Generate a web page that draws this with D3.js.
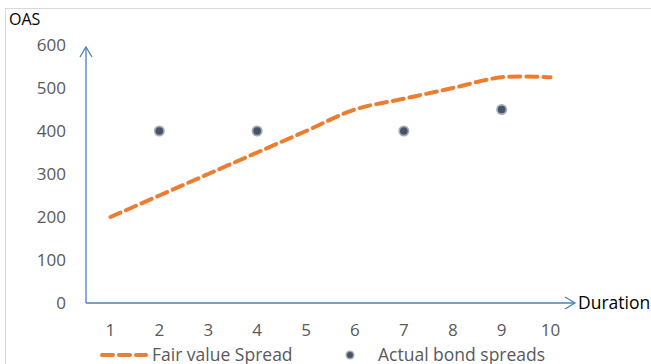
<!DOCTYPE html>
<html lang="en">
<head>
<meta charset="utf-8">
<title>OAS vs Duration</title>
<script src="https://d3js.org/d3.v7.min.js"></script>
<style>
  body { margin: 0; background: #fff; }
  text { font-family: "Open Sans", "Liberation Sans", sans-serif; }
</style>
</head>
<body>
<svg width="651" height="364"></svg>
<script>
// data
var durations = [1, 2, 3, 4, 5, 6, 7, 8, 9, 10];
var fairValue = [200, 250, 300, 350, 400, 450, 475, 500, 525, 525];
var bondDurations = [2, 4, 7, 9];
var bondSpreads = [400, 400, 400, 450];
var yTicks = [0, 100, 200, 300, 400, 500, 600];

var svg = d3.select('svg');

// light chart frame
svg.append('rect')
  .attr('x', 5.5).attr('y', 8.5)
  .attr('width', 660).attr('height', 370)
  .attr('fill', 'none')
  .attr('stroke', '#d9d9d9');

var x = d3.scaleLinear().domain([0.5, 10.5]).range([86, 575]);
var y = d3.scaleLinear().domain([0, 600]).range([303, 45]);

var axisCol = '#4a7ebb';

// y axis with arrow
svg.append('line')
  .attr('x1', 86).attr('y1', y(0))
  .attr('x2', 86).attr('y2', 47)
  .attr('stroke', axisCol).attr('stroke-width', 1.3);
svg.append('path')
  .attr('d', 'M80,57 L86,47 L92,57')
  .attr('fill', 'none').attr('stroke', axisCol).attr('stroke-width', 1.3);

// x axis with arrow
svg.append('line')
  .attr('x1', 86).attr('y1', y(0))
  .attr('x2', 575).attr('y2', y(0))
  .attr('stroke', axisCol).attr('stroke-width', 1.3);
svg.append('path')
  .attr('d', 'M565,' + (y(0) - 6) + ' L575,' + y(0) + ' L565,' + (y(0) + 6))
  .attr('fill', 'none').attr('stroke', axisCol).attr('stroke-width', 1.3);

// tick labels
svg.append('g').selectAll('text')
  .data(yTicks).enter().append('text')
  .attr('x', 66)
  .attr('y', function(d) { return y(d); })
  .attr('dy', '0.35em')
  .attr('text-anchor', 'end')
  .attr('font-size', 17)
  .attr('fill', '#595959')
  .text(function(d) { return d; });

svg.append('g').selectAll('text')
  .data(durations).enter().append('text')
  .attr('x', function(d) { return x(d); })
  .attr('y', 336)
  .attr('text-anchor', 'middle')
  .attr('font-size', 17)
  .attr('fill', '#595959')
  .text(function(d) { return d; });

// axis titles
svg.append('text')
  .attr('x', 9).attr('y', 25)
  .attr('font-size', 16)
  .attr('fill', '#000')
  .text('OAS');
svg.append('text')
  .attr('x', 578).attr('y', y(0) + 6)
  .attr('font-size', 17.5)
  .attr('fill', '#000')
  .text('Duration');

// fair value line
var line = d3.line()
  .x(function(d, i) { return x(durations[i]); })
  .y(function(d) { return y(d); })
  .curve(d3.curveCatmullRom.alpha(0.5));

svg.append('path')
  .datum(fairValue)
  .attr('d', line)
  .attr('fill', 'none')
  .attr('stroke', '#ed7d31')
  .attr('stroke-width', 4)
  .attr('stroke-dasharray', '11,6')
  .attr('stroke-linecap', 'round');

// actual bond spreads
var pts = svg.append('g').selectAll('g')
  .data(bondSpreads).enter().append('g');
pts.append('circle')
  .attr('cx', function(d, i) { return x(bondDurations[i]); })
  .attr('cy', function(d) { return y(d); })
  .attr('r', 5.5)
  .attr('fill', '#a6abb3');
pts.append('circle')
  .attr('cx', function(d, i) { return x(bondDurations[i]); })
  .attr('cy', function(d) { return y(d); })
  .attr('r', 3.8)
  .attr('fill', '#44546a');

// legend
svg.append('line')
  .attr('x1', 102).attr('y1', 355)
  .attr('x2', 146).attr('y2', 355)
  .attr('stroke', '#ed7d31')
  .attr('stroke-width', 4)
  .attr('stroke-dasharray', '11,6')
  .attr('stroke-linecap', 'round');
svg.append('text')
  .attr('x', 152).attr('y', 361)
  .attr('font-size', 17.5)
  .attr('fill', '#595959')
  .text('Fair value Spread');
svg.append('circle')
  .attr('cx', 350).attr('cy', 355).attr('r', 4.5).attr('fill', '#a6abb3');
svg.append('circle')
  .attr('cx', 350).attr('cy', 355).attr('r', 3).attr('fill', '#44546a');
svg.append('text')
  .attr('x', 378).attr('y', 361)
  .attr('font-size', 17.5)
  .attr('fill', '#595959')
  .text('Actual bond spreads');
</script>
</body>
</html>
